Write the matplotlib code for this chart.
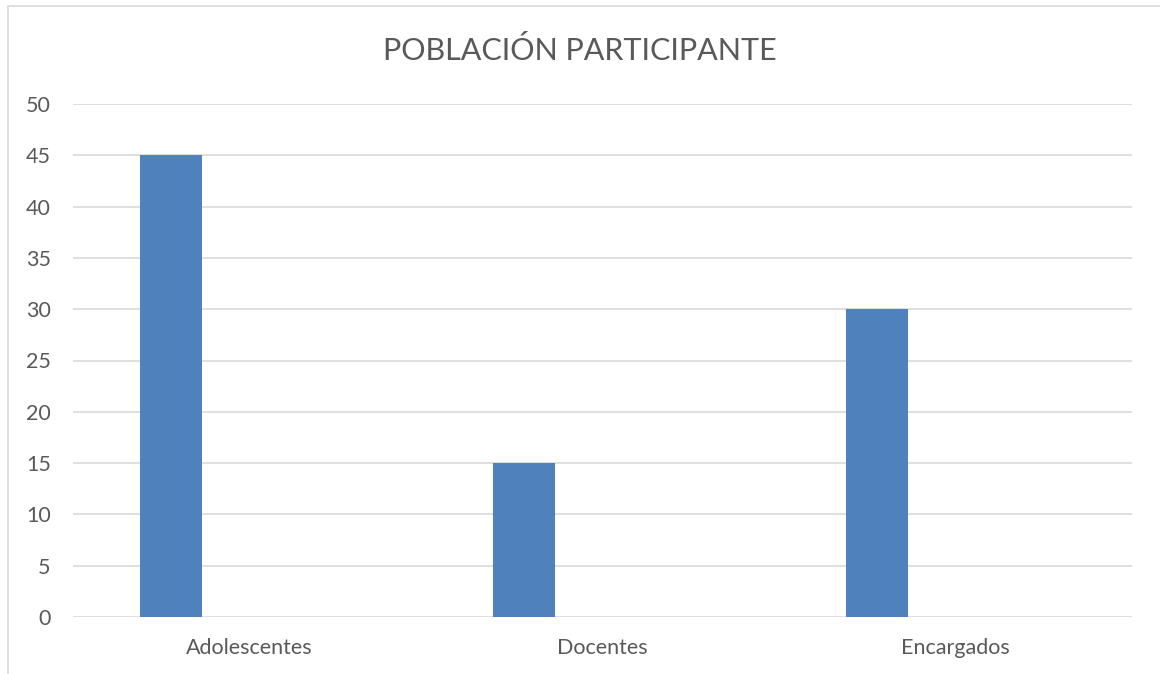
import numpy as np
import matplotlib.pyplot as plt
from matplotlib.patches import Rectangle

categorias = ['Adolescentes', 'Docentes', 'Encargados']
valores = [45, 15, 30]
ticks_y = [0, 5, 10, 15, 20, 25, 30, 35, 40, 45, 50]

plt.rcParams['font.family'] = ['Lato', 'DejaVu Sans']

fig = plt.figure(figsize=(11.6, 6.74), dpi=100)
# chart border like the office chart frame
fig.patches.append(Rectangle((8 / 1160, -0.1), 1.2, 1 - 6 / 674 + 0.1,
                             transform=fig.transFigure, fill=False,
                             edgecolor='#d9d9d9', linewidth=1.2))

ax = fig.add_axes([73 / 1160, 1 - 617 / 674, (1132 - 73) / 1160, (617 - 104) / 674])

x = np.arange(len(categorias))
ax.bar(x - 0.222, valores, width=0.176, color='#4f81bd', zorder=3)

ax.set_xlim(-0.5, 2.5)
ax.set_ylim(0, 50)
ax.set_yticks(ticks_y)
ax.set_xticks(x)
ax.set_xticklabels(categorias)
ax.yaxis.grid(True, color='#d9d9d9', linewidth=1.2, zorder=0)
for s in ax.spines.values():
    s.set_visible(False)
ax.tick_params(length=0, labelcolor='#595959', labelsize=15.5)
ax.tick_params(axis='y', pad=16)
ax.tick_params(axis='x', pad=15)

fig.text(0.5, 1 - 51 / 674, 'POBLACIÓN PARTICIPANTE', ha='center', va='center',
         fontsize=22, color='#595959')

fig.savefig('out.png', dpi=100)
